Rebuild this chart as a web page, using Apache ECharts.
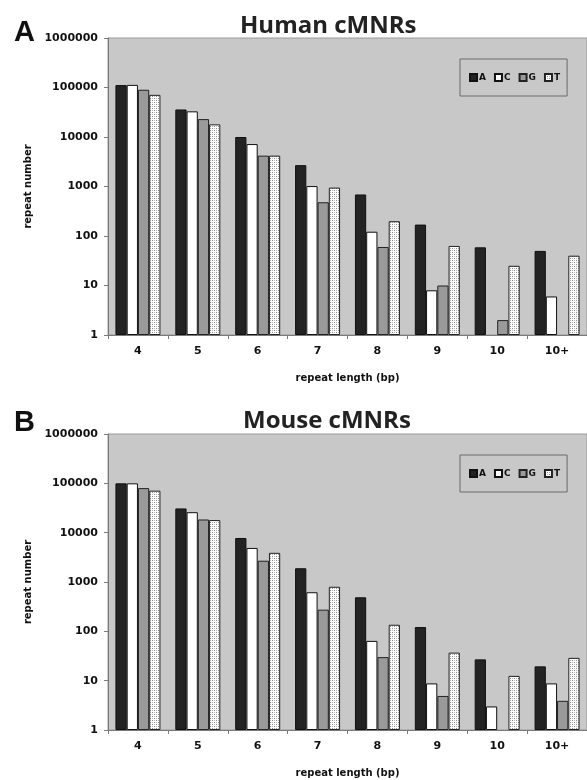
<!DOCTYPE html>
<html><head><meta charset="utf-8">
<script src="https://cdn.jsdelivr.net/npm/echarts@6/dist/echarts.min.js"></script>
<style>html,body{margin:0;padding:0;background:#fff}#c{width:587px;height:780px}</style>
</head><body><div id="c"></div>
<script>
const categories = ['4','5','6','7','8','9','10','10+'];
const seriesNames = ['A','C','G','T'];
const humanA = [112000, 36000, 10000, 2700, 690, 170, 59, 50];
const humanC = [113000, 33000, 7200, 1020, 122, 8, null, 6];
const humanG = [90000, 23000, 4200, 480, 60, 10, 2, null];
const humanT = [71000, 18000, 4200, 950, 199, 63, 25, 40];
const mouseA = [100000, 31000, 7800, 1900, 490, 122, 27, 19.5];
const mouseC = [100000, 26000, 4900, 620, 64, 8.8, 3, 8.8];
const mouseG = [80000, 18500, 2700, 275, 30, 4.9, null, 3.9];
const mouseT = [71000, 18000, 3900, 800, 136, 37, 12.5, 29];
const yTicks = [1, 10, 100, 1000, 10000, 100000, 1000000];

const pc = document.createElement('canvas');
pc.width = 4; pc.height = 4;
const g = pc.getContext('2d');
g.fillStyle = '#ffffff'; g.fillRect(0,0,4,4);
g.fillStyle = '#8a8a8a'; g.fillRect(0,0,1,1); g.fillRect(2,2,1,1);
g.fillStyle = '#b8b8b8'; g.fillRect(2,0,1,1); g.fillRect(0,2,1,1);
const dotPattern = {image: pc, repeat: 'repeat'};

const styles = {
  A: {color: '#232323', borderColor: '#111', borderWidth: 1},
  C: {color: '#ffffff', borderColor: '#111', borderWidth: 1},
  G: {color: '#9a9a9a', borderColor: '#222', borderWidth: 1},
  T: {color: dotPattern, borderColor: '#222', borderWidth: 1}
};

const FONT = 'DejaVu Sans';
const grids = [
  {left: 108, top: 38, right: -2, height: 297},
  {left: 108, top: 434, right: -2, height: 296}
];

function xAxis(i) {
  return {
    type: 'category', gridIndex: i, data: categories,
    axisLine: {lineStyle: {color: '#7a7a7a', width: 1}},
    axisTick: {show: true, length: 4, lineStyle: {color: '#7a7a7a'}},
    axisLabel: {fontFamily: FONT, fontWeight: 'bold', fontSize: 11, color: '#111', margin: 11},
    name: 'repeat length (bp)', nameLocation: 'middle', nameGap: 38,
    nameTextStyle: {fontFamily: FONT, fontWeight: 'bold', fontSize: 10, color: '#111'}
  };
}
function yAxis(i) {
  return {
    type: 'log', logBase: 10, gridIndex: i, min: yTicks[0], max: yTicks[yTicks.length-1],
    splitNumber: 6,
    axisLine: {show: true, lineStyle: {color: '#7a7a7a', width: 1}},
    axisTick: {show: true, length: 4, lineStyle: {color: '#7a7a7a'}},
    splitLine: {show: false},
    axisLabel: {fontFamily: FONT, fontWeight: 'bold', fontSize: 11, color: '#111', margin: 10,
      formatter: v => String(Math.round(v))},
    name: 'repeat number', nameLocation: 'middle', nameGap: 57, nameRotate: 90,
    nameTextStyle: {fontFamily: FONT, fontWeight: 'bold', fontSize: 10, color: '#111'}
  };
}

const data = [[humanA, humanC, humanG, humanT], [mouseA, mouseC, mouseG, mouseT]];
const series = [];
for (let i = 0; i < 2; i++) {
  seriesNames.forEach((n, k) => {
    series.push({
      name: n, type: 'bar', xAxisIndex: i, yAxisIndex: i,
      data: data[i][k], barWidth: 11.25, barGap: '0%',
      itemStyle: styles[n], silent: true, animation: false
    });
  });
}

function legend(top) {
  return {
    data: seriesNames, left: 460, top: top, orient: 'horizontal',
    icon: 'rect', itemWidth: 7, itemHeight: 7, itemGap: 8,
    padding: [14, 7, 14, 9],
    borderColor: '#6a6a6a', borderWidth: 1, backgroundColor: 'transparent',
    selectedMode: false,
    textStyle: {fontFamily: FONT, fontWeight: 'bold', fontSize: 9, color: '#111', padding: [0,0,0,-3]}
  };
}

const chart = echarts.init(document.getElementById('c'), null, {renderer: 'canvas'});
chart.setOption({
  animation: false,
  backgroundColor: '#ffffff',
  title: [
    {text: 'Human cMNRs', left: 235, top: 9,
     textStyle: {fontFamily: 'Open Sans', fontWeight: 'bold', fontSize: 24, color: '#222'}},
    {text: 'Mouse cMNRs', left: 238, top: 404,
     textStyle: {fontFamily: 'Open Sans', fontWeight: 'bold', fontSize: 24, color: '#222'}}
  ],
  grid: grids.map(gr => Object.assign({show: true, backgroundColor: '#c8c8c8', borderColor: '#9a9a9a', borderWidth: 1}, gr)),
  xAxis: [xAxis(0), xAxis(1)],
  yAxis: [yAxis(0), yAxis(1)],
  legend: [legend(59), legend(455)],
  graphic: [
    {type: 'text', left: 14, top: 18, style: {text: 'A', font: 'bold 29px "Liberation Sans"', fill: '#111'}},
    {type: 'text', left: 14, top: 408, style: {text: 'B', font: 'bold 29px "Liberation Sans"', fill: '#111'}}
  ],
  series: series
});
</script></body></html>
